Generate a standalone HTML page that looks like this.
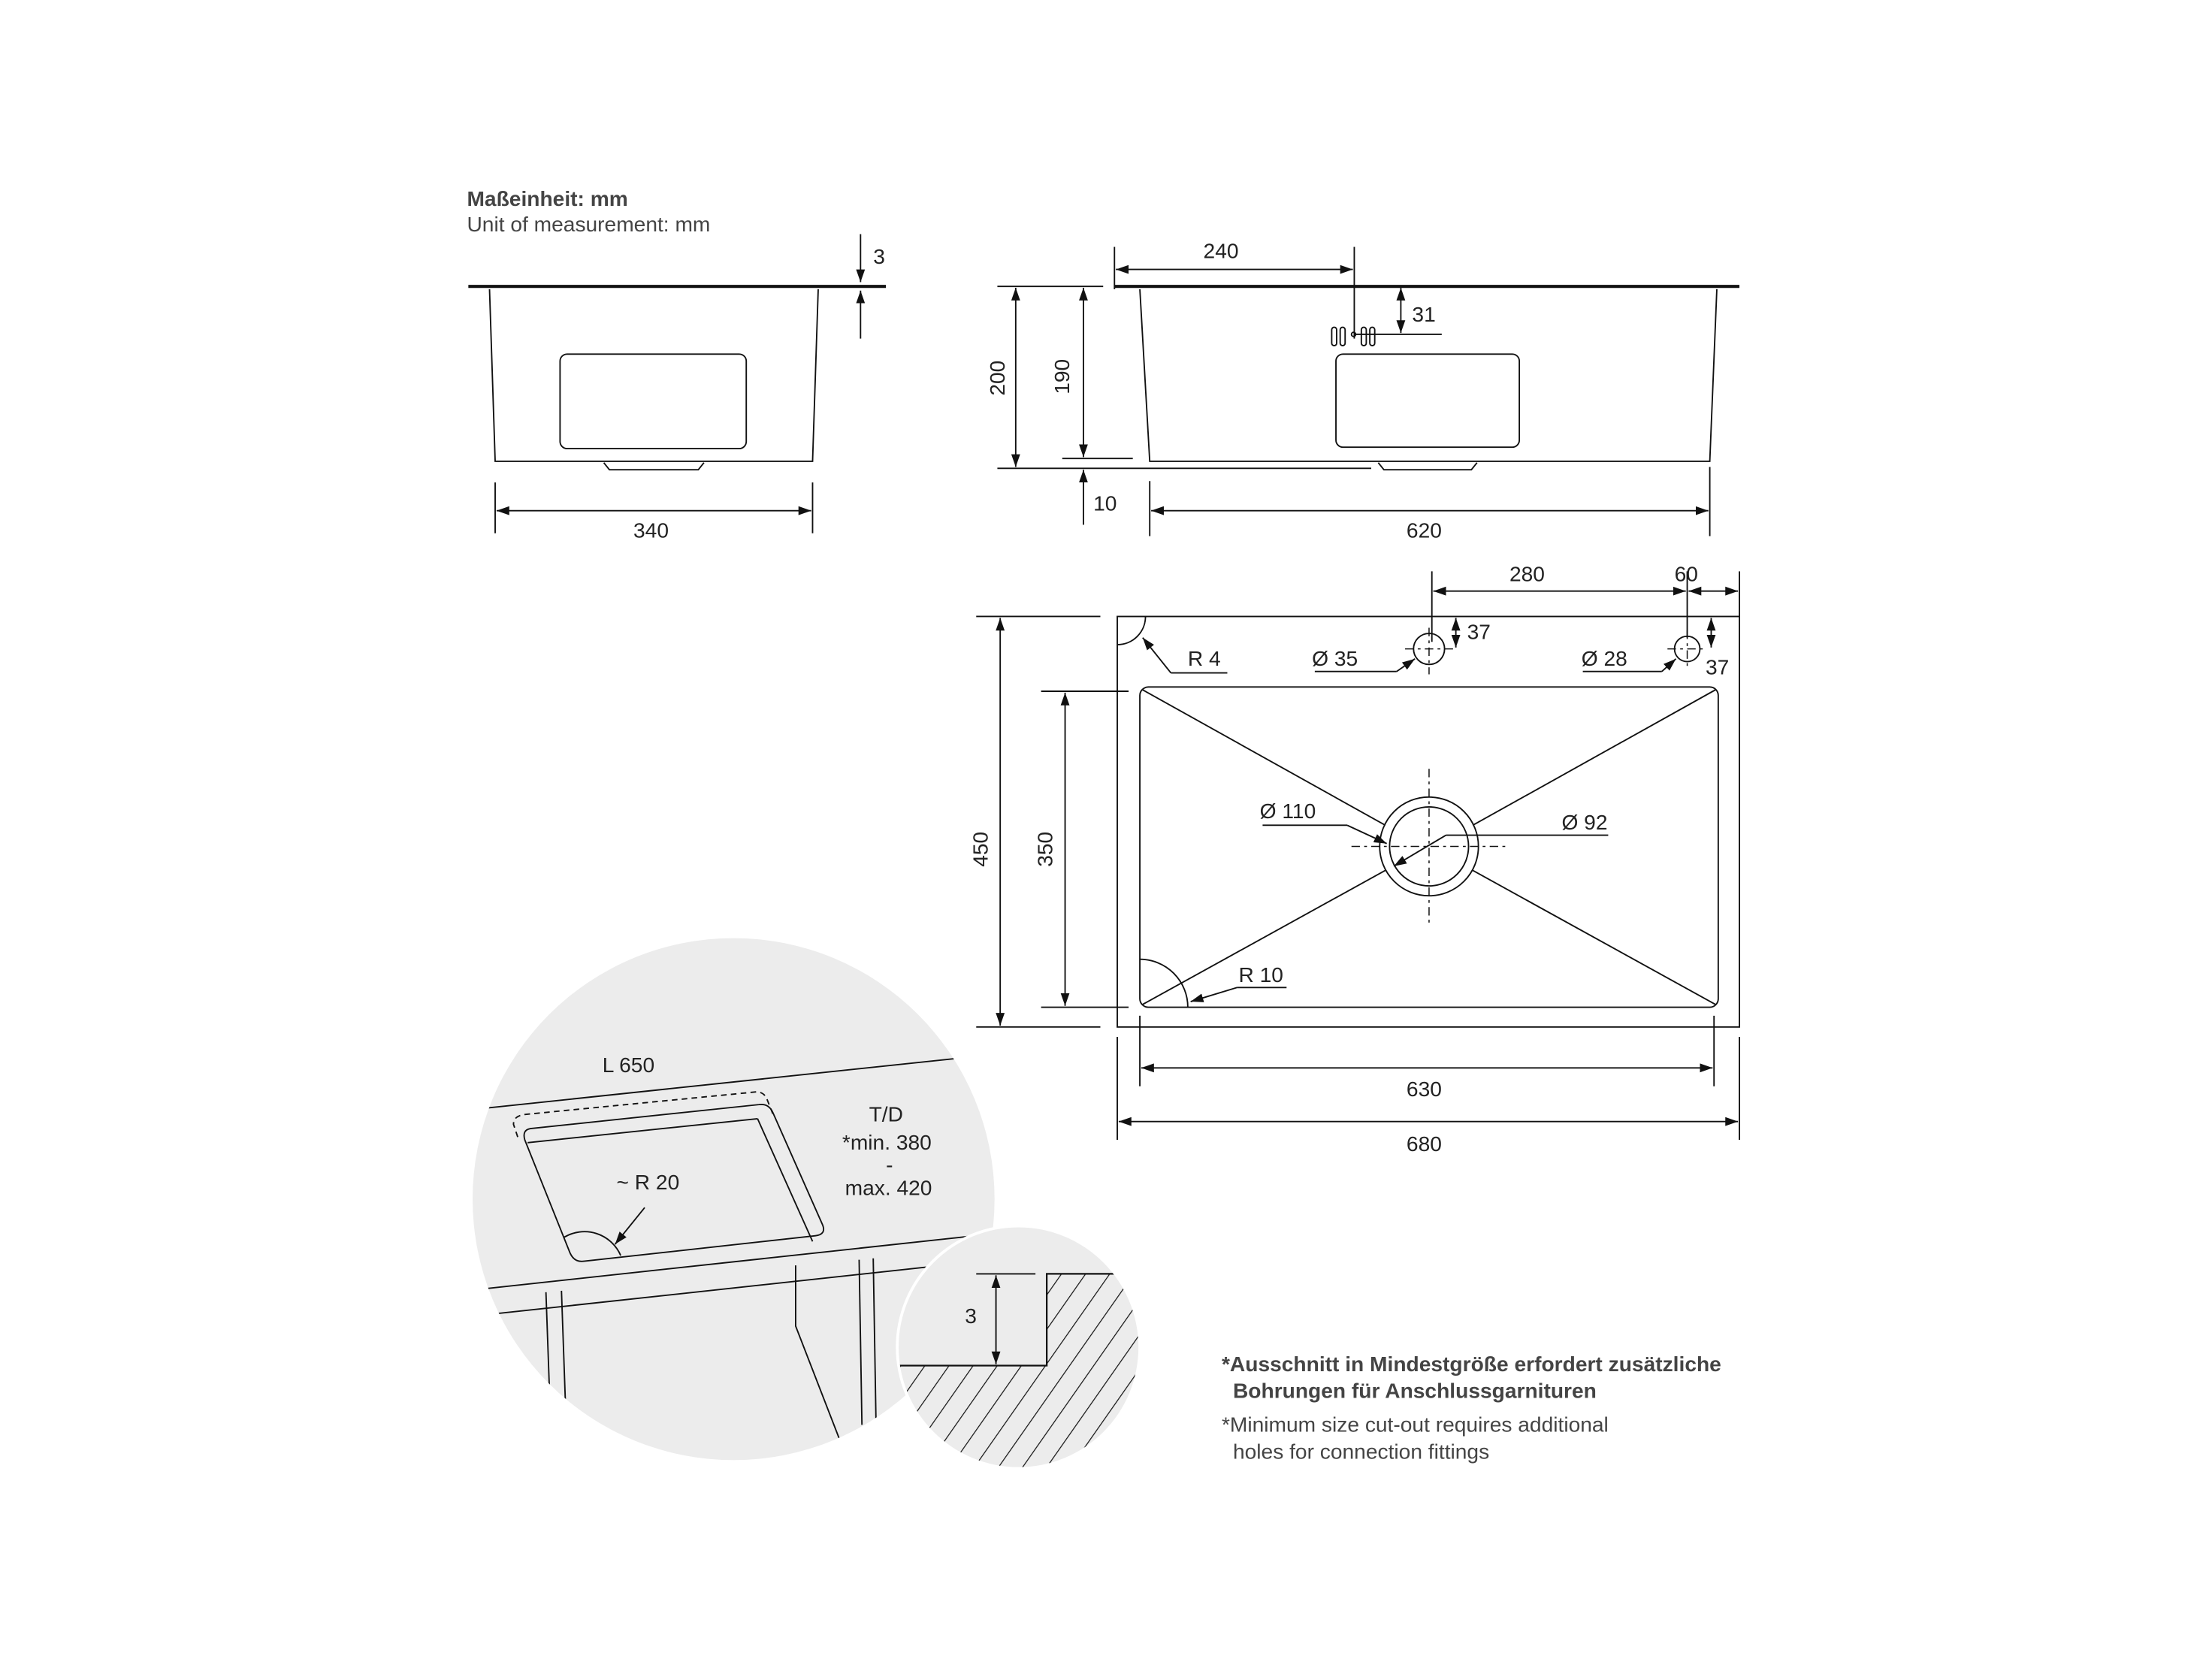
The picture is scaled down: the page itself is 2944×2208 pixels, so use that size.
<!DOCTYPE html>
<html><head><meta charset="utf-8"><style>
html,body{margin:0;padding:0;background:#fff;}
svg{display:block;}
text{font-family:"Liberation Sans",sans-serif;fill:#222;font-size:15px;}
</style></head><body>
<svg width="2944" height="2208" viewBox="0 0 1568 1176" xmlns="http://www.w3.org/2000/svg">
<defs>
<marker id="a" viewBox="0 0 10 10" refX="10" refY="5" markerWidth="9" markerHeight="9" orient="auto-start-reverse" markerUnits="userSpaceOnUse"><path d="M0,1.5 L10,5 L0,8.5 z" fill="#111"/></marker>
<clipPath id="c2"><circle cx="722" cy="955" r="85"/></clipPath>
<clipPath id="c1"><circle cx="520" cy="850" r="185"/></clipPath>
<pattern id="h" width="14" height="14" patternUnits="userSpaceOnUse" patternTransform="rotate(35)"><line x1="0" y1="0" x2="0" y2="14" stroke="#111" stroke-width="1.3"/></pattern>
</defs>
<text x="331" y="146" font-weight="bold" style="fill:#444">Maßeinheit: mm</text>
<text x="331" y="164" style="fill:#444">Unit of measurement: mm</text>

<g stroke="#111" fill="none" stroke-width="1">
<line x1="332" y1="203" x2="628" y2="203" stroke-width="2.2"/>
<path d="M347,205 L351,327 L576,327 L580,205"/>
<rect x="397" y="251" width="132" height="67" rx="5"/>
<path d="M428,328 L432,333 L495,333 L499,328"/>
<line x1="610" y1="166" x2="610" y2="200" marker-end="url(#a)"/>
<line x1="610" y1="240" x2="610" y2="206" marker-end="url(#a)"/>
<line x1="351" y1="342" x2="351" y2="378"/><line x1="576" y1="342" x2="576" y2="378"/>
<line x1="352" y1="362" x2="575" y2="362" marker-start="url(#a)" marker-end="url(#a)"/>

<line x1="790" y1="203" x2="1233" y2="203" stroke-width="2.2"/>
<path d="M808,205 L815,327 L1212,327 L1217,205"/>
<rect x="947" y="251" width="130" height="66" rx="5"/>
<path d="M977,328 L981,333 L1043,333 L1047,328"/>
<line x1="707" y1="203" x2="782" y2="203"/>
<line x1="707" y1="332" x2="972" y2="332"/>
<line x1="753" y1="325" x2="803" y2="325"/>
<line x1="720" y1="204" x2="720" y2="331" marker-start="url(#a)" marker-end="url(#a)"/>
<line x1="768" y1="204" x2="768" y2="324" marker-start="url(#a)" marker-end="url(#a)"/>
<line x1="768" y1="372" x2="768" y2="333" marker-end="url(#a)"/>
<line x1="790" y1="175" x2="790" y2="205"/><line x1="960" y1="175" x2="960" y2="240"/>
<line x1="791" y1="191" x2="959" y2="191" marker-start="url(#a)" marker-end="url(#a)"/>
<line x1="960" y1="237" x2="1022" y2="237"/>
<line x1="993" y1="204" x2="993" y2="236" marker-start="url(#a)" marker-end="url(#a)"/>
<rect x="944" y="232" width="3.5" height="13" rx="1.7"/><rect x="950" y="232" width="3.5" height="13" rx="1.7"/>
<rect x="965" y="232" width="3.5" height="13" rx="1.7"/><rect x="971" y="232" width="3.5" height="13" rx="1.7"/>
<circle cx="959.5" cy="237" r="1.5"/>
<line x1="815" y1="341" x2="815" y2="380"/><line x1="1212" y1="331" x2="1212" y2="380"/>
<line x1="816" y1="362" x2="1211" y2="362" marker-start="url(#a)" marker-end="url(#a)"/>

<rect x="792" y="437" width="441" height="291"/>
<rect x="808" y="487" width="410" height="227" rx="6"/>
<line x1="810" y1="489" x2="982" y2="585"/><line x1="1216" y1="489" x2="1044" y2="585"/>
<line x1="810" y1="712" x2="982" y2="617"/><line x1="1216" y1="712" x2="1044" y2="617"/>
<circle cx="1013" cy="600" r="35"/><circle cx="1013" cy="600" r="28"/>
<g stroke-dasharray="6,3,2,3" stroke-width="0.8">
<line x1="1013" y1="545" x2="1013" y2="655"/><line x1="958" y1="600" x2="1068" y2="600"/>
<line x1="1013" y1="445" x2="1013" y2="478"/><line x1="996" y1="460" x2="1030" y2="460"/>
<line x1="1196" y1="447" x2="1196" y2="474"/><line x1="1182" y1="460" x2="1210" y2="460"/>
</g>
<line x1="895" y1="585" x2="955" y2="585"/><line x1="955" y1="585" x2="983" y2="598" marker-end="url(#a)"/>
<line x1="1140" y1="592" x2="1025" y2="592"/><line x1="1025" y1="592" x2="988" y2="614" marker-end="url(#a)"/>
<circle cx="1013" cy="460" r="11"/><circle cx="1196" cy="460" r="9"/>
<line x1="932" y1="476" x2="990" y2="476"/><line x1="990" y1="476" x2="1003" y2="467" marker-end="url(#a)"/>
<line x1="1122" y1="476" x2="1178" y2="476"/><line x1="1178" y1="476" x2="1188" y2="467" marker-end="url(#a)"/>
<path d="M792,457 A20,20 0 0 0 812,437"/>
<line x1="870" y1="477" x2="830" y2="477"/><line x1="830" y1="477" x2="810" y2="452" marker-end="url(#a)"/>
<path d="M808,680 A34,34 0 0 1 842,714"/>
<line x1="912" y1="700" x2="877" y2="700"/><line x1="877" y1="700" x2="844" y2="710" marker-end="url(#a)"/>
<line x1="1015" y1="405" x2="1015" y2="455"/><line x1="1196" y1="405" x2="1196" y2="452"/><line x1="1233" y1="405" x2="1233" y2="437"/>
<line x1="1016" y1="419" x2="1195" y2="419" marker-start="url(#a)" marker-end="url(#a)"/>
<line x1="1197" y1="419" x2="1232" y2="419" marker-start="url(#a)" marker-end="url(#a)"/>
<line x1="1032" y1="438" x2="1032" y2="459" marker-start="url(#a)" marker-end="url(#a)"/>
<line x1="1213" y1="438" x2="1213" y2="459" marker-start="url(#a)" marker-end="url(#a)"/>
<line x1="692" y1="437" x2="780" y2="437"/><line x1="692" y1="728" x2="780" y2="728"/>
<line x1="709" y1="438" x2="709" y2="727" marker-start="url(#a)" marker-end="url(#a)"/>
<line x1="738" y1="490" x2="800" y2="490"/><line x1="738" y1="714" x2="800" y2="714"/>
<line x1="755" y1="491" x2="755" y2="713" marker-start="url(#a)" marker-end="url(#a)"/>
<line x1="808" y1="720" x2="808" y2="770"/><line x1="1215" y1="720" x2="1215" y2="770"/>
<line x1="809" y1="757" x2="1214" y2="757" marker-start="url(#a)" marker-end="url(#a)"/>
<line x1="792" y1="735" x2="792" y2="808"/><line x1="1233" y1="735" x2="1233" y2="808"/>
<line x1="793" y1="795" x2="1232" y2="795" marker-start="url(#a)" marker-end="url(#a)"/>
</g>

<circle cx="520" cy="850" r="185" fill="#ececec"/>
<g clip-path="url(#c1)" stroke="#111" fill="none" stroke-width="1">
<line x1="330" y1="787" x2="700" y2="748"/>
<line x1="330" y1="915" x2="700" y2="875"/>
<line x1="335" y1="933" x2="705" y2="893"/>
<path d="M367,806 L364,797 Q364,791 372,790 L536,774 Q542,774 544,780 L548,790" stroke-dasharray="4,3"/>
<path d="M376,800 Q370,801 372,808 L404,888 Q407,895 414,894 L578,876 Q586,875 583,868 L548,789 Q545,782 538,783 Z"/>
<line x1="374" y1="810" x2="537" y2="793"/>
<line x1="537" y1="793" x2="576" y2="880"/>
<path d="M400,877 A28,28 0 0 1 440,890"/>
<line x1="457" y1="856" x2="436" y2="882" marker-end="url(#a)"/>
<line x1="387" y1="916" x2="390" y2="1000"/><line x1="398" y1="915" x2="401" y2="1000"/>
<line x1="609" y1="893" x2="611" y2="1010"/><line x1="619" y1="892" x2="621" y2="1010"/>
<path d="M564,897 L564,940 L595,1020"/>
</g>
<text x="427" y="760">L 650</text>
<text x="616" y="795">T/D</text>
<text x="597" y="815">*min. 380</text>
<text x="628" y="831">-</text>
<text x="599" y="847">max. 420</text>
<text x="437" y="843">~ R 20</text>

<circle cx="722" cy="955" r="87" fill="#fff"/>
<circle cx="722" cy="955" r="85" fill="#ececec"/>
<g clip-path="url(#c2)">
<path d="M742,903 L820,903 L820,1050 L620,1050 L620,968 L742,968 Z" fill="url(#h)"/>
<path d="M620,968 L742,968 L742,903 L820,903" fill="none" stroke="#111" stroke-width="1.2"/>
</g>
<line x1="692" y1="903" x2="734" y2="903" stroke="#111"/>
<line x1="706" y1="904" x2="706" y2="967" stroke="#111" marker-start="url(#a)" marker-end="url(#a)"/>
<text x="684" y="938">3</text>

<text x="619" y="187">3</text>
<text x="449" y="381">340</text>
<text x="853" y="183">240</text>
<text x="1001" y="228">31</text>
<text x="775" y="362">10</text>
<text x="997" y="381">620</text>
<text transform="translate(712,268) rotate(-90)" text-anchor="middle">200</text>
<text transform="translate(758,267) rotate(-90)" text-anchor="middle">190</text>
<text transform="translate(700,602) rotate(-90)" text-anchor="middle">450</text>
<text transform="translate(746,602) rotate(-90)" text-anchor="middle">350</text>
<text x="1070" y="412">280</text>
<text x="1187" y="412">60</text>
<text x="1040" y="453">37</text>
<text x="1209" y="478">37</text>
<text x="842" y="472">R 4</text>
<text x="930" y="472">Ø 35</text>
<text x="1121" y="472">Ø 28</text>
<text x="893" y="580">Ø 110</text>
<text x="1107" y="588">Ø 92</text>
<text x="878" y="696">R 10</text>
<text x="997" y="777">630</text>
<text x="997" y="816">680</text>

<text x="866" y="972" font-weight="bold" style="fill:#444">*Ausschnitt in Mindestgröße erfordert zusätzliche</text>
<text x="874" y="991" font-weight="bold" style="fill:#444">Bohrungen für Anschlussgarnituren</text>
<text x="866" y="1015" style="fill:#444">*Minimum size cut-out requires additional</text>
<text x="874" y="1034" style="fill:#444">holes for connection fittings</text>
</svg>
</body></html>
